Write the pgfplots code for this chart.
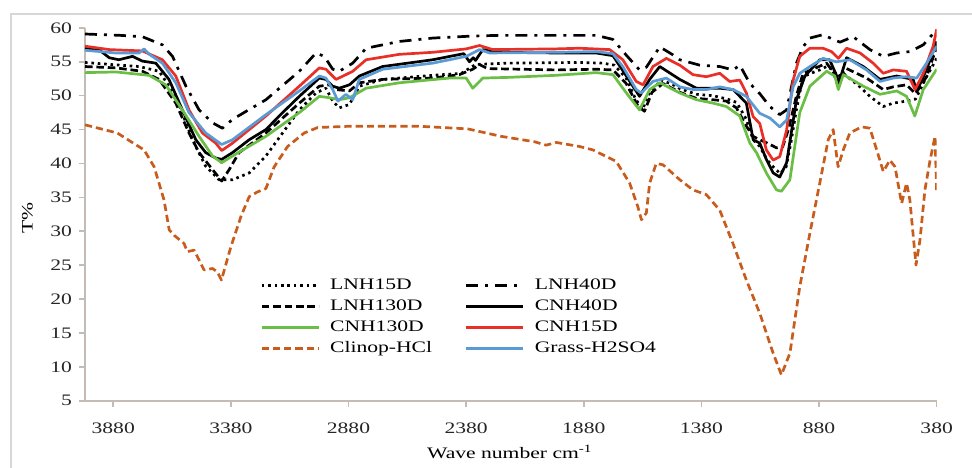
\documentclass[border=0pt]{standalone}
\usepackage{fontspec}
\setmainfont{Liberation Serif}
\usepackage{graphicx}
\usepackage{pgfplots}
\pgfplotsset{compat=1.18}

\definecolor{cgreen}{RGB}{106,190,70}
\definecolor{cred}{RGB}{232,48,40}
\definecolor{corange}{RGB}{200,92,28}
\definecolor{cblue}{RGB}{91,155,213}
\definecolor{caxis}{RGB}{196,188,180}
\definecolor{cframe}{RGB}{215,215,215}

\newcommand{\chartfont}{\fontsize{8bp}{9.5bp}\selectfont}
% wide-set text, as in the original figure
\newcommand{\wide}[1]{\scalebox{1.35}[1]{#1}}

\begin{document}
\begin{tikzpicture}
\begin{axis}[
  at={(0,0)}, anchor=south west,
  scale only axis, width=425.85bp, height=186.4bp,
  x dir=reverse,
  xmin=380, xmax=4000, ymin=5, ymax=60,
  xtick={380,880,...,3880}, ytick={5,10,...,60},
  scaled x ticks=false, scaled y ticks=false,
  /pgf/number format/1000 sep={},
  /pgf/number format/assume math mode=true,
  xticklabel={\wide{\pgfmathprintnumber{\tick}}},
  yticklabel={\wide{\pgfmathprintnumber{\tick}}},
  axis x line*=bottom, axis y line*=left,
  axis line style={-, draw=caxis, line width=0.8bp},
  tick align=outside, major tick length=3bp,
  tick style={draw=caxis, line width=0.8bp},
  ticklabel style={font=\chartfont, text=black!85},
  xticklabel style={yshift=-4.5bp},
  xlabel={\wide{Wave number cm\textsuperscript{-1}}},
  ylabel={\wide{T\%}},
  xlabel style={font=\chartfont, at={(axis description cs:0.499,-0.138)}, anchor=center},
  ylabel style={font=\chartfont, at={(axis description cs:-0.0675,0.491)}, anchor=center},
  legend columns=2,
  legend cell align=left,
  legend image code/.code={\draw[#1] (0bp,0bp) -- (28.5bp,0bp);},
  legend style={
    at={(axis description cs:0.2055,0.337)}, anchor=north west,
    draw=none, fill=none, inner sep=0pt,
    font=\chartfont,
    nodes={text height=5.5bp, text depth=1.5bp, inner sep=1.5bp},
    row sep=0.5bp, column sep=3.5bp,
    /tikz/every even column/.append style={column sep=15bp},
  },
  every axis plot/.append style={line width=1.35bp, line join=round},
]

% LNH15D
\addplot[black, dash pattern=on 1.3bp off 1.9bp] coordinates {
(4000,54.9) (3890,54.6) (3770,54.3) (3685,53.6) (3614,49.9) (3543,43.5) (3487,39.6)
(3430,37.6) (3373,37.6) (3302,38.6) (3231,41.1) (3160,44.5) (3089,47.9) (3018,50.4)
(2976,51.1) (2947,49.2) (2919,48.2) (2876,48.7) (2834,51.4) (2735,52.4) (2522,53.0)
(2400,53.3) (2340,54.6) (2200,54.8) (1900,54.9) (1800,54.8) (1750,54.5) (1700,52.6)
(1660,49.5) (1630,48.0) (1600,50.5) (1550,52.3) (1500,51.6) (1470,51.0) (1400,50.2)
(1330,50.0) (1270,49.5) (1230,49.0) (1189,46.5) (1160,43.5) (1132,42.5) (1100,40.5)
(1075,39.5) (1045,38.5) (1020,39.5) (1000,43.0) (976,48.0) (948,52.8) (900,53.5)
(877,53.8) (848,54.3) (820,53.8) (800,52.8) (777,53.3) (706,51.3) (664,49.9)
(607,48.4) (565,48.9) (508,49.2) (470,49.5) (423,52.8) (380,55.5)
};
\addlegendentry{\wide{LNH15D}}

% LNH40D
\addplot[black, dash pattern=on 6bp off 3.5bp on 1.5bp off 3.5bp] coordinates {
(4000,59.1) (3850,58.9) (3756,58.7) (3671,57.5) (3628,55.8) (3571,51.4) (3515,47.9)
(3458,46.0) (3416,45.2) (3373,46.5) (3300,48.0) (3231,49.4) (3160,51.5) (3089,53.6)
(3018,56.3) (2983,55.8) (2947,53.9) (2919,53.6) (2862,54.8) (2805,57.0) (2664,58.0)
(2522,58.5) (2352,58.8) (2238,58.9) (1950,58.9) (1827,58.9) (1756,58.3) (1700,56.0)
(1643,53.8) (1614,54.2) (1557,57.2) (1500,56.0) (1472,55.3) (1387,54.5) (1302,54.3)
(1245,53.8) (1217,54.5) (1174,51.8) (1132,50.3) (1089,48.4) (1047,47.2) (1018,47.9)
(976,54.8) (948,57.2) (919,58.5) (863,59.0) (820,58.3) (791,57.9) (735,58.7)
(664,56.8) (607,55.8) (550,56.3) (494,56.5) (437,57.5) (394,59.2) (380,59.6)
};
\addlegendentry{\wide{LNH40D}}

% LNH130D
\addplot[black, dash pattern=on 3.8bp off 1.9bp] coordinates {
(4000,54.3) (3869,54.1) (3756,53.6) (3685,52.4) (3614,48.9) (3558,44.5) (3515,41.6)
(3458,39.1) (3419,37.4) (3387,39.1) (3345,41.6) (3231,44.5) (3089,48.9) (3004,51.4)
(2961,51.6) (2933,50.9) (2876,50.7) (2834,51.9) (2735,52.4) (2522,52.6) (2409,53.1)
(2352,53.9) (2323,54.6) (2290,54.0) (2000,53.8) (1827,53.9) (1756,53.8) (1700,51.8)
(1650,48.5) (1622,47.7) (1590,50.5) (1543,51.8) (1472,50.5) (1401,49.6) (1330,49.4)
(1274,49.2) (1231,48.2) (1189,45.5) (1160,44.0) (1132,43.5) (1100,43.0) (1060,42.3)
(1035,42.4) (1010,45.0) (976,50.0) (948,53.3) (900,54.0) (848,54.8) (820,53.5)
(800,51.5) (777,53.5) (763,54.0) (678,52.6) (607,50.9) (565,51.3) (508,51.6)
(470,50.3) (423,52.8) (380,57.2)
};
\addlegendentry{\wide{LNH130D}}

% CNH40D
\addplot[black] coordinates {
(4000,57.0) (3941,56.8) (3897,55.6) (3856,55.3) (3798,55.8) (3756,55.1) (3699,54.8)
(3643,52.4) (3586,47.9) (3529,43.5) (3487,41.6) (3444,40.8) (3419,40.6) (3373,41.6)
(3302,43.5) (3231,45.0) (3160,47.5) (3089,49.9) (3004,52.6) (2976,52.4) (2947,51.4)
(2919,51.1) (2876,51.6) (2834,52.9) (2735,54.3) (2522,55.3) (2390,56.2) (2366,55.0)
(2350,55.6) (2340,55.2) (2309,56.8) (2250,56.4) (2000,56.3) (1827,56.3) (1756,55.9)
(1699,52.9) (1643,49.9) (1600,52.4) (1557,54.3) (1472,52.4) (1401,51.1) (1302,51.1)
(1245,50.9) (1189,48.9) (1160,43.5) (1132,43.0) (1104,40.6) (1075,38.6) (1047,38.0)
(1018,40.1) (976,49.4) (940,52.9) (877,55.3) (835,55.3) (806,53.0) (795,52.0)
(763,55.6) (692,54.3) (621,52.4) (550,52.9) (480,52.4) (465,50.6) (423,53.9)
(380,58.0)
};
\addlegendentry{\wide{CNH40D}}

% CNH130D
\addplot[cgreen] coordinates {
(4000,53.4) (3869,53.5) (3727,53.0) (3657,51.6) (3586,47.9) (3515,44.0) (3458,41.1)
(3419,40.1) (3373,41.1) (3231,44.0) (3089,47.5) (3004,49.9) (2961,49.7) (2919,49.4)
(2876,49.7) (2805,51.1) (2664,51.9) (2451,52.6) (2380,52.6) (2352,51.1) (2309,52.6)
(2200,52.7) (2000,53.0) (1827,53.4) (1756,53.1) (1699,50.4) (1643,47.9) (1600,50.9)
(1557,51.9) (1472,50.4) (1401,49.4) (1331,48.9) (1274,48.4) (1217,47.0) (1174,43.0)
(1146,41.6) (1104,38.6) (1061,36.1) (1040,35.9) (1004,37.6) (962,47.5) (919,51.4)
(848,53.6) (813,52.9) (798,50.9) (777,53.1) (692,51.4) (621,50.2) (550,50.7)
(508,49.9) (473,47.0) (437,50.9) (380,53.9)
};
\addlegendentry{\wide{CNH130D}}

% CNH15D
\addplot[cred] coordinates {
(4000,57.3) (3897,56.8) (3756,56.6) (3671,55.3) (3614,52.9) (3558,47.9) (3501,44.5)
(3444,43.0) (3419,41.9) (3373,43.0) (3231,47.0) (3089,51.4) (3004,54.1) (2976,53.9)
(2933,52.4) (2891,53.1) (2862,53.6) (2805,55.3) (2664,56.1) (2522,56.4) (2380,56.9)
(2323,57.4) (2267,56.8) (2000,56.9) (1898,57.0) (1770,56.8) (1714,55.3) (1657,52.1)
(1628,51.6) (1586,54.3) (1529,55.5) (1472,54.5) (1416,53.1) (1359,52.8) (1302,53.3)
(1260,52.1) (1217,52.3) (1189,50.4) (1160,46.9) (1132,45.9) (1104,42.0) (1075,40.5)
(1047,41.0) (1018,44.9) (990,52.3) (962,55.8) (919,57.0) (863,57.0) (827,56.5)
(798,55.5) (763,57.0) (706,56.3) (650,54.8) (607,53.3) (565,53.8) (508,53.6)
(472,50.9) (437,53.3) (395,57.3) (380,59.8)
};
\addlegendentry{\wide{CNH15D}}

% Clinop-HCl
\addplot[corange, dash pattern=on 3.6bp off 2bp] coordinates {
(4000,45.7) (3863,44.5) (3749,42.0) (3706,39.5) (3664,34.6) (3642,30.2) (3621,29.4)
(3579,28.2) (3565,27.0) (3536,27.2) (3494,24.3) (3458,24.5) (3437,24.0) (3420,22.8)
(3380,27.7) (3337,32.2) (3302,35.1) (3267,35.8) (3231,36.3) (3196,39.5) (3139,42.5)
(3068,44.5) (3011,45.3) (2869,45.5) (2586,45.5) (2373,45.1) (2231,44.0) (2089,43.2)
(2040,42.7) (1997,43.1) (1898,42.5) (1841,42.0) (1742,40.3) (1685,37.1) (1650,33.6)
(1635,31.7) (1614,32.7) (1600,37.1) (1572,40.0) (1543,39.8) (1472,37.6) (1416,36.1)
(1359,35.4) (1302,33.1) (1246,28.2) (1189,22.8) (1132,17.9) (1075,12.0) (1040,8.8)
(1004,12.0) (962,21.8) (919,29.7) (877,37.1) (841,43.5) (820,45.0) (799,39.5)
(777,42.0) (749,44.5) (699,45.4) (664,45.2) (635,42.0) (607,38.8) (579,40.5)
(557,39.5) (529,34.1) (508,37.1) (494,34.6) (468,25.0) (451,28.7) (430,36.1)
(408,40.5) (387,44.0) (380,35.6)
};
\addlegendentry{\wide{Clinop-HCl}}

% Grass-H2SO4
\addplot[cblue] coordinates {
(4000,56.7) (3869,56.3) (3770,56.3) (3749,56.9) (3727,56.1) (3671,54.8) (3614,51.9)
(3558,47.5) (3487,44.5) (3419,42.8) (3373,43.5) (3231,47.2) (3089,50.7) (3004,52.9)
(2976,52.6) (2947,50.9) (2925,49.2) (2891,50.2) (2862,49.4) (2834,52.4) (2735,53.9)
(2522,54.8) (2380,55.8) (2323,56.8) (2280,56.3) (2000,56.4) (1827,56.5) (1756,56.2)
(1714,54.3) (1657,50.9) (1636,50.4) (1586,52.1) (1529,52.6) (1472,51.3) (1416,50.9)
(1359,50.9) (1302,51.3) (1245,50.9) (1189,49.9) (1132,47.4) (1089,46.7) (1047,45.4)
(1018,46.4) (990,51.3) (962,53.3) (919,54.3) (863,55.5) (806,55.0) (749,55.3)
(678,53.8) (621,52.1) (565,52.6) (508,52.8) (465,52.6) (423,54.8) (380,57.3)
};
\addlegendentry{\wide{Grass-H2SO4}}

\end{axis}
% chart area frame
\draw[cframe, line width=0.8bp] (-37bp,-60bp) rectangle (480bp,193.35bp);
\pgfresetboundingbox
\useasboundingbox (-42.5bp,-33.65bp) rectangle (443.5bp,200.35bp);
\end{tikzpicture}
\end{document}
